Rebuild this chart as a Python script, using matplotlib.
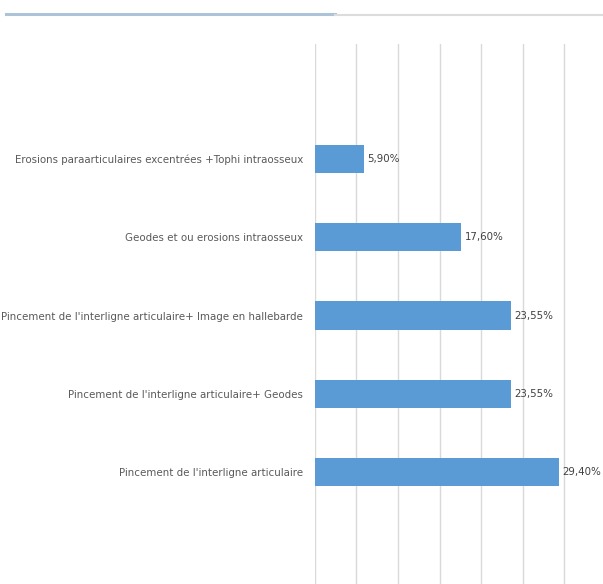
import matplotlib
matplotlib.use("Agg")
import matplotlib.pyplot as plt
from matplotlib import font_manager
from matplotlib.lines import Line2D

categories = [
    "Pincement de l'interligne articulaire",
    "Pincement de l'interligne articulaire+ Geodes",
    "Pincement de l'interligne articulaire+ Image en hallebarde",
    "Geodes et ou erosions intraosseux",
    "Erosions paraarticulaires excentrées +Tophi intraosseux",
]
values = [29.40, 23.55, 23.55, 17.60, 5.90]
value_labels = ["29,40%", "23,55%", "23,55%", "17,60%", "5,90%"]

fl = font_manager.fontManager.ttflist
names = {f.name for f in fl}
stretch = "normal"
if "Liberation Sans Narrow" in names:
    fam = "Liberation Sans Narrow"
elif any(f.name == "DejaVu Sans" and str(f.stretch) in ("condensed", "semi-condensed", "600", "700") for f in fl):
    fam = "DejaVu Sans"
    stretch = "condensed"
else:
    fam = "Roboto" if "Roboto" in names else "DejaVu Sans"

W, H = 603, 584
fig = plt.figure(figsize=(W / 100, H / 100), dpi=100)
fig.patch.set_facecolor("white")

# fit font size so the longest label is ~302 px wide (as in the reference)
renderer = fig.canvas.get_renderer()
probe = fig.text(0, 0, categories[2], fontfamily=fam, fontstretch=stretch, fontsize=10)
wpx = probe.get_window_extent(renderer).width
probe.remove()
fs = min(10.5, 10 * 301 / wpx)

ax_left = 314.7 / W
ax_right = (314.7 + 35 * 8.32) / W
ax_top = 1 - 44 / H
ax = fig.add_axes([ax_left, 0.0, ax_right - ax_left, ax_top])

ypos = list(range(len(categories)))
ax.barh(ypos, values, height=0.36, color="#5B9BD5", zorder=3)
ax.set_xlim(0, 35)
ax.set_ylim(-1.43, 5.47)
ax.set_xticks([0, 5, 10, 15, 20, 25, 30, 35])
ax.xaxis.grid(True, color="#d9d9d9", linewidth=1, zorder=0)
ax.tick_params(axis="x", length=0, labelbottom=False)
ax.tick_params(axis="y", length=0, pad=8.2)
ax.set_yticks(ypos)
ax.set_yticklabels(categories, fontfamily=fam, fontstretch=stretch,
                   fontsize=fs, color="#595959")
for s in ax.spines.values():
    s.set_visible(False)

for y, v, lab in zip(ypos, values, value_labels):
    ax.annotate(lab, (v, y), xytext=(2.5, 0), textcoords="offset points",
                ha="left", va="center", fontfamily=fam, fontstretch=stretch,
                fontsize=fs, color="#404040")

# decorative top lines
fig.add_artist(Line2D([6 / W, 335 / W], [1 - 13.5 / H] * 2, color="#adc3d8",
                      linewidth=2.2, transform=fig.transFigure))
fig.add_artist(Line2D([335 / W, 1.0], [1 - 15 / H] * 2, color="#dcdcdc",
                      linewidth=1.5, transform=fig.transFigure))

fig.savefig("out.png", dpi=100)
